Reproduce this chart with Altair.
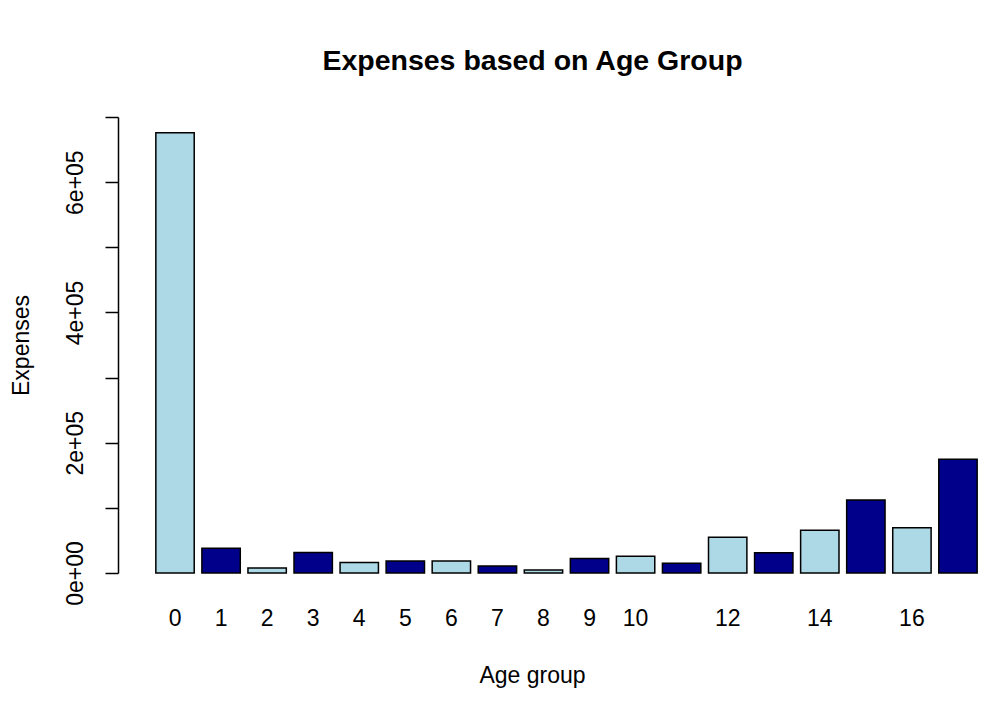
import altair as alt
import pandas as pd

ages = list(range(18))
expenses = [676000, 37900, 7700, 31300, 16000, 18400, 18400, 10700, 4600,
            22100, 25600, 14900, 54800, 31100, 65500, 112000, 69500, 174800]

df = pd.DataFrame({"age": ages, "expenses": expenses})

FONT = "Liberation Sans"

chart = alt.Chart(df).transform_calculate(
    shade="datum.age % 2 == 0 ? 'light' : 'dark'"
).mark_bar(stroke="black", strokeWidth=1.5).encode(
    x=alt.X("age:O",
            scale=alt.Scale(paddingInner=1/6, paddingOuter=1/12),
            axis=alt.Axis(title="Age group", domain=False, ticks=False,
                          labelAngle=0, labelFontSize=23, labelFont=FONT,
                          labelColor="black", labelPadding=34, labelOverlap=False,
                          labelExpr="(datum.value <= 10 || datum.value % 2 == 0) ? datum.label : ''",
                          titleFont=FONT, titleFontSize=23, titleFontWeight="normal",
                          titleColor="black", titleX=380, titleY=102,
                          titleBaseline="middle", titleAlign="center")),
    y=alt.Y("expenses:Q",
            scale=alt.Scale(domain=[0, 700000], nice=False),
            axis=alt.Axis(title="Expenses", values=[0, 100000, 200000, 300000, 400000, 500000, 600000, 700000],
                          grid=False, offset=34, tickSize=13, tickWidth=1.5,
                          domainWidth=1.5, domainColor="black", tickColor="black",
                          labelAngle=270, labelAlign="center", labelBaseline="bottom",
                          labelPadding=18, labelFontSize=23, labelFont=FONT,
                          labelColor="black", labelOverlap=False,
                          labelExpr="datum.value == 0 ? '0e+00' : (datum.value % 200000 == 0 ? (datum.value/100000) + 'e+05' : '')",
                          titleFont=FONT, titleFontSize=23, titleFontWeight="normal",
                          titleColor="black", titleX=-97, titleY=228,
                          titleAngle=270, titleAlign="center", titleBaseline="middle")),
    color=alt.Color("shade:N",
                    scale=alt.Scale(domain=["light", "dark"], range=["#ADD8E6", "#00008B"]),
                    legend=None),
).properties(
    width=829,
    height=456,
    title=alt.TitleParams("Expenses based on Age Group", font=FONT, fontSize=28.5,
                          fontWeight="bold", color="black", anchor="middle",
                          offset=41, dx=-34),
    autosize=alt.AutoSizeParams(type="none"),
    padding={"left": 144, "top": 109, "right": 10, "bottom": 120},
).configure_view(stroke=None)

chart.save("out.html", embed_options={"renderer": "svg", "actions": False})
